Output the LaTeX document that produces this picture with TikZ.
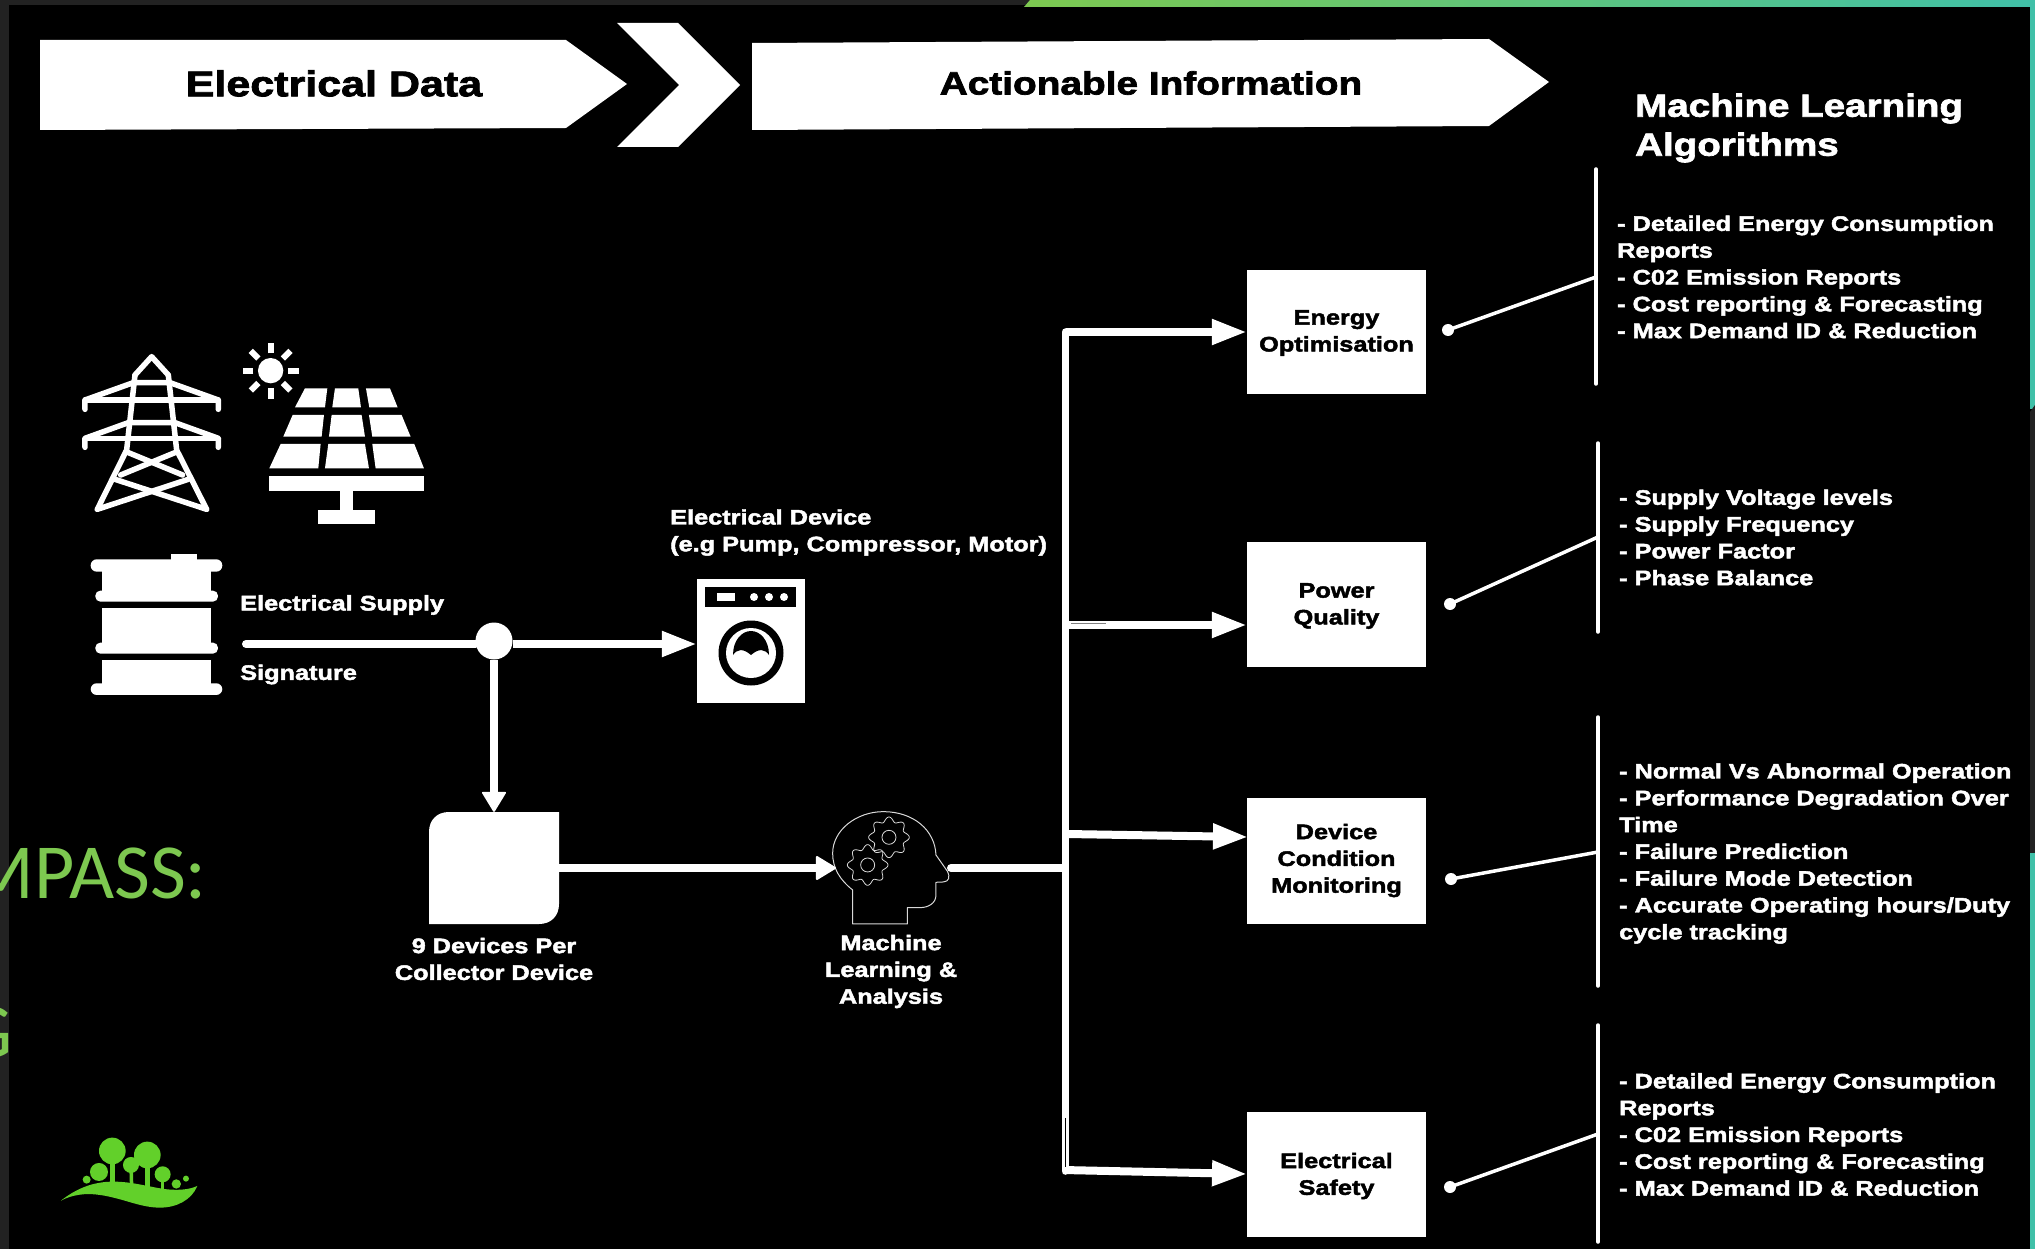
\documentclass[tikz,border=0pt]{standalone}
\usepackage{fontspec}
\usetikzlibrary{arrows.meta}
\setmainfont{Liberation Sans}
\newfontfamily\lab[BoldFeatures={FakeStretch=1.205,FakeBold=2.2}]{Liberation Sans}
\newfontfamily\thin{Carlito}
\definecolor{strip}{HTML}{222222}
\definecolor{tealc}{HTML}{40C0A8}
\definecolor{greenc}{HTML}{7DC850}
\definecolor{leaf}{HTML}{62D02A}
\definecolor{thinc}{HTML}{D8D8D8}
\tikzset{
  txt/.style={text=white,inner sep=0pt,font=\lab\bfseries\fontsize{21}{26.8}\selectfont},
  boxtxt/.style={fill=white,text=black,inner sep=0pt,minimum width=179pt,align=center,font=\lab\bfseries\fontsize{21}{26.8}\selectfont},
  bigarrow/.style={draw=white,line width=8pt,-{Triangle[length=35pt,width=24pt]}},
  smallarrow/.style={draw=white,line width=8pt,-{Triangle[length=21pt,width=25pt,round,line width=2pt]}},
  wire/.style={draw=white,line width=8pt},
  rulev/.style={draw=white,line width=3.5pt,line cap=round},
  lead/.style={draw=white,line width=3.5pt},
  dotend/.style={circle,fill=white,inner sep=0pt,minimum size=12pt},
  pylon/.style={draw=white,line width=5.5pt,line cap=round,line join=round},
}
\begin{document}
\begin{tikzpicture}[x=1pt,y=-1pt]
\useasboundingbox (0,0) rectangle (2035,1249);
\clip (0,0) rectangle (2035,1249);
\fill[black] (0,0) rectangle (2035,1249);
% frame bits
\fill[strip] (0,0) rectangle (9,1249);
\fill[strip] (0,0) rectangle (1032,5);
\shade[left color=greenc,right color=tealc] (1024,7) -- (1030,0) -- (2035,0) -- (2035,7) -- cycle;
\fill[tealc] (2030,7) rectangle (2035,409);
\fill[strip] (2030,412) -- (2035,405) -- (2035,855) -- (2030,853) -- cycle;
\fill[tealc] (2030,853) rectangle (2035,1249);
% left green text
\node[anchor=base east,inner sep=0pt,text=greenc,font=\thin\fontsize{78}{82}\selectfont] (mpass) at (207,898) {MPASS:};
\node[anchor=base east,inner sep=0pt,text=greenc,font=\thin\fontsize{78}{82}\selectfont] (gpart) at (13,1057) {G};
% header arrows
\fill[white] (40,40) -- (566,40) -- (627,84) -- (566,128) -- (40,130) -- cycle;
\fill[white] (617,23) -- (678,23) -- (740,85) -- (678,147) -- (617,147) -- (679,85) -- cycle;
\fill[white] (752,43) -- (1489,39) -- (1549,82) -- (1489,126) -- (752,130) -- cycle;
\node[inner sep=0pt,text=black,font=\lab\bfseries\fontsize{35.7}{40}\selectfont] (h1) at (334,83.5) {Electrical Data};
\node[inner sep=0pt,text=black,font=\lab\bfseries\fontsize{32.2}{40}\selectfont] (h2) at (1151,83) {Actionable Information};
\node[txt,anchor=west,align=left,font=\lab\bfseries\fontsize{32}{39}\selectfont] (mla) at (1635,128) {Machine Learning\\Algorithms};
% pylon
\begin{scope}[shift={(0,320)},x=0.3333pt,y=-0.3333pt]
\draw[pylon] (405,165) -- (455,110) -- (505,165);
\draw[pylon] (405,165) -- (380,390) -- (292,568);
\draw[pylon] (505,165) -- (530,390) -- (620,568);
\draw[pylon] (255,268) -- (255,240) -- (400,188) -- (510,188) -- (655,240) -- (655,268);
\draw[pylon] (255,240) -- (655,240);
\draw[pylon] (255,382) -- (255,355) -- (385,308) -- (525,308) -- (655,355) -- (655,382);
\draw[pylon] (255,355) -- (655,355);
\draw[pylon] (378,395) -- (548,465);
\draw[pylon] (532,395) -- (362,465);
\draw[pylon] (292,568) -- (565,478);
\draw[pylon] (620,568) -- (345,478);
% sun
\fill[white] (812,152) circle (38);
\foreach \a in {0,45,...,315}
  \draw[white,line width=6pt] (812,152) ++(\a:52) -- ++(\a:32);
% solar panel
\fill[white] (915,205) -- (982,205) -- (975,262) -- (885,262) -- cycle;
\fill[white] (1005,205) -- (1075,205) -- (1083,262) -- (997,262) -- cycle;
\fill[white] (1098,205) -- (1170,205) -- (1193,262) -- (1108,262) -- cycle;
\fill[white] (878,285) -- (972,285) -- (965,350) -- (850,350) -- cycle;
\fill[white] (995,285) -- (1085,285) -- (1095,350) -- (987,350) -- cycle;
\fill[white] (1107,285) -- (1205,285) -- (1232,350) -- (1117,350) -- cycle;
\fill[white] (842,372) -- (962,372) -- (955,445) -- (808,445) -- cycle;
\fill[white] (985,372) -- (1095,372) -- (1107,445) -- (975,445) -- cycle;
\fill[white] (1117,372) -- (1243,372) -- (1272,445) -- (1127,445) -- cycle;
\fill[white] (808,467) rectangle (1272,512);
\fill[white] (1020,512) rectangle (1060,570);
\fill[white] (955,570) rectangle (1125,612);
% barrel
\fill[white] (513,702) rectangle (592,722);
\fill[white,rounded corners=6pt] (272,718) rectangle (667,755);
\fill[white] (306,750) rectangle (633,816);
\fill[white,rounded corners=5pt] (286,812) rectangle (654,845);
\fill[white] (306,865) rectangle (633,972);
\fill[white,rounded corners=5pt] (286,968) rectangle (654,1001);
\fill[white] (306,1021) rectangle (633,1094);
\fill[white,rounded corners=6pt] (272,1090) rectangle (667,1125);
\end{scope}
% labels
\node[txt,anchor=west] (supplylab) at (240,605) {Electrical Supply};
\node[txt,anchor=west] (siglab) at (240,674.5) {Signature};
\node[txt,anchor=west,align=left] (devlab) at (670,532.5) {Electrical Device\\(e.g Pump, Compressor, Motor)};
\node[txt,align=center] (collab) at (494,959) {9 Devices Per\\Collector Device};
\node[txt,align=center] (mllab) at (891,971.5) {Machine\\Learning \&\\Analysis};
% washing machine
\node[fill=white,inner sep=0pt,minimum width=108pt,minimum height=124pt] (washer) at (751,641) {};
\fill[black] (705,587) rectangle (796,607);
\fill[white] (717,593) rectangle (735,601);
\foreach \cx in {754,769,784} \fill[white] (\cx,597) circle (4);
\fill[black] (751,653) circle (32.5);
\fill[white] (751,653) circle (25);
\fill[black] (733,655) .. controls (733,640) and (742,631) .. (751,631) .. controls (760,631) and (769,640) .. (769,655) .. controls (765,649) and (759,648) .. (751,655) .. controls (743,648) and (737,649) .. (733,655) -- cycle;
% collector
\fill[white] (429,924) -- (429,832) .. controls (429,820) and (437,812) .. (449,812) -- (559,812) -- (559,904) .. controls (559,916) and (551,924) .. (539,924) -- cycle;
\node[inner sep=0pt,minimum width=130pt,minimum height=112pt] (collector) at (494,868) {};
% junction & supply
\coordinate (supply) at (246,644);
\node[circle,fill=white,inner sep=0pt,minimum size=37pt] (junction) at (494,641) {};
\draw[wire,line cap=round] (supply) -- (junction.west |- supply);
\coordinate (wasL) at (washer.west |- supply);
\draw[bigarrow] (junction.east |- supply) -- (wasL);
\draw[smallarrow] (junction.south) -- (collector.north);
% head
\begin{scope}[shift={(650,560)},x=0.3333pt,y=-0.3333pt]
\draw[thinc,line width=1pt,line join=round] (608,1092) -- (608,990) .. controls (570,960) and (548,925) .. (548,880) .. controls (548,810) and (620,755) .. (700,755) .. controls (790,755) and (855,810) .. (858,885) -- (893,935) .. controls (900,950) and (898,965) .. (880,966) -- (858,967) -- (858,1005) .. controls (858,1030) and (835,1043) .. (810,1043) -- (772,1043) -- (772,1092) -- cycle;
\draw[thinc,line width=0.8pt] plot[domain=0:360,samples=121,smooth] ({717+(54+7*cos(8*\x))*cos(\x)},{832+(54+7*cos(8*\x))*sin(\x)}) -- cycle;
\draw[thinc,line width=0.8pt] (717,832) circle (21);
\draw[thinc,line width=0.8pt] plot[domain=0:360,samples=121,smooth] ({653+(54+7*cos(8*\x))*cos(\x)},{915+(54+7*cos(8*\x))*sin(\x)}) -- cycle;
\draw[thinc,line width=0.8pt] (653,915) circle (21);
\end{scope}
\coordinate (headL) at (836,868);
\coordinate (headR) at (951,868);
\draw[smallarrow] (collector.east) -- (headL);
% boxes
\node[boxtxt,minimum height=124pt] (energy) at (1336.5,332) {};
\node[inner sep=0pt,text=black,align=center,font=\lab\bfseries\fontsize{21}{26.8}\selectfont] (energyt) at (1336.5,333) {Energy\\Optimisation};
\node[boxtxt,minimum height=125pt] (power) at (1336.5,604.5) {};
\node[inner sep=0pt,text=black,align=center,font=\lab\bfseries\fontsize{21}{26.8}\selectfont] (powert) at (1336.5,606) {Power\\Quality};
\node[boxtxt,minimum height=126pt] (cond) at (1336.5,861) {};
\node[inner sep=0pt,text=black,align=center,font=\lab\bfseries\fontsize{21}{26.8}\selectfont] (condt) at (1336.5,860.5) {Device\\Condition\\Monitoring};
\node[boxtxt,minimum height=125pt] (safety) at (1336.5,1174.5) {};
\node[inner sep=0pt,text=black,align=center,font=\lab\bfseries\fontsize{21}{26.8}\selectfont] (safetyt) at (1336.5,1176) {Electrical\\Safety};
% trunk
\coordinate (tTop) at (1065.5,332);
\coordinate (tBot) at (1065.5,1171);
\coordinate (tMid) at (1065.5,868);
\draw[white,line width=7.5pt,line cap=round] (tTop) -- (tBot);
\draw[wire] (headR) -- (tMid);
\fill[white] (headR) circle (4);
\coordinate (t1) at (1065.5,332);
\coordinate (t2) at (1067,625);
\coordinate (t3) at (1067,834);
\coordinate (t4) at (1063,1170);
\coordinate (tip3) at (1248,837);
\coordinate (tip4) at (1247,1174);
\draw[bigarrow] (t1) -- (energy.west |- t1);
\draw[bigarrow] (t2) -- (power.west |- t2);
\draw[bigarrow] (t3) -- (tip3);
\draw[bigarrow] (t4) -- (tip4);
\draw[gray,line width=0.8pt] (1071,623) -- (1106,623);
\draw[black,line width=0.8pt] (1065,1118) -- (1065,1167);
% right rules
\coordinate (r1a) at (1596,169); \coordinate (r1b) at (1596,384);
\coordinate (r2a) at (1598,443); \coordinate (r2b) at (1598,632);
\coordinate (r3a) at (1598,717); \coordinate (r3b) at (1598,986);
\coordinate (r4a) at (1598,1025); \coordinate (r4b) at (1598,1242);
\draw[rulev] (r1a) -- (r1b);
\draw[rulev] (r2a) -- (r2b);
\draw[rulev] (r3a) -- (r3b);
\draw[rulev] (r4a) -- (r4b);
\node[dotend] (d1) at (1448,330) {};
\node[dotend] (d2) at (1450,604) {};
\node[dotend] (d3) at (1451,879) {};
\node[dotend] (d4) at (1450,1187) {};
\coordinate (j1) at (1596,277);
\coordinate (j2) at (1598,537);
\coordinate (j3) at (1598,852);
\coordinate (j4) at (1598,1134);
\draw[lead] (d1.center) -- (j1);
\draw[lead] (d2.center) -- (j2);
\draw[lead] (d3.center) -- (j3);
\draw[lead] (d4.center) -- (j4);
% lists
\node[txt,anchor=west,align=left] (l1) at (1617,277) {- Detailed Energy Consumption\\Reports\\- C02 Emission Reports\\- Cost reporting \& Forecasting\\- Max Demand ID \& Reduction};
\node[txt,anchor=west,align=left] (l2) at (1619,537.5) {- Supply Voltage levels\\- Supply Frequency\\- Power Factor\\- Phase Balance};
\node[txt,anchor=west,align=left] (l3) at (1619,853.5) {- Normal Vs Abnormal Operation\\- Performance Degradation Over\\Time\\- Failure Prediction\\- Failure Mode Detection\\- Accurate Operating hours/Duty\\cycle tracking};
\node[txt,anchor=west,align=left] (l4) at (1619,1134.5) {- Detailed Energy Consumption\\Reports\\- C02 Emission Reports\\- Cost reporting \& Forecasting\\- Max Demand ID \& Reduction};
% logo
\begin{scope}[shift={(0,780)},x=0.3333pt,y=-0.3333pt,leaf]
\fill (337,1113) circle (40);
\fill (442,1125) circle (40);
\fill (393,1155) circle (24);
\fill (297,1176) circle (27);
\fill (488,1183) circle (24);
\fill (529,1212) circle (14);
\fill (558,1196) circle (9);
\fill (260,1199) circle (12);
\draw[line width=5pt] (337,1113) -- (337,1215);
\draw[line width=5pt] (442,1125) -- (442,1230);
\draw[line width=3.5pt] (393,1155) -- (395,1220);
\draw[line width=3pt] (488,1183) -- (488,1240);
\fill (183,1262) .. controls (230,1225) and (280,1205) .. (340,1205) .. controls (400,1205) and (450,1222) .. (500,1228) .. controls (540,1232) and (570,1228) .. (592,1218) .. controls (575,1260) and (530,1283) .. (480,1283) .. controls (420,1283) and (370,1255) .. (300,1245) .. controls (255,1238) and (215,1245) .. (183,1262) -- cycle;
\end{scope}
\end{tikzpicture}
\end{document}
